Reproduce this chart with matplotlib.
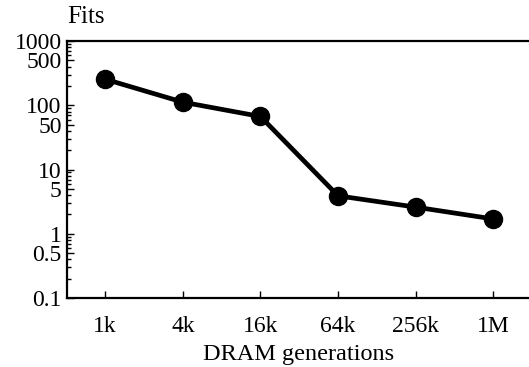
import matplotlib
matplotlib.use("Agg")
import matplotlib.pyplot as plt
from matplotlib.ticker import FixedLocator, LogLocator, NullFormatter

generations = ["1k", "4k", "16k", "64k", "256k", "1M"]
fits = [255, 112, 67, 3.9, 2.6, 1.7]
ytick_values = [0.1, 0.5, 1, 5, 10, 50, 100, 500, 1000]
ytick_labels = ["0.1", "0.5", "1", "5", "10", "50", "100", "500", "1000"]

plt.rcParams['font.family'] = ['Liberation Serif', 'DejaVu Serif']

fig = plt.figure(figsize=(5.29, 3.67), dpi=100)
ax = fig.add_axes([0.127, 0.188, 0.873, 0.700])

x = list(range(len(generations)))
ax.plot(x, fits, color='black', linewidth=3.4, marker='o', markersize=13,
        markerfacecolor='black', markeredgecolor='black')

ax.set_yscale('log')
ax.set_ylim(0.1, 1000)
ax.set_xlim(-0.49, 5.46)

ax.yaxis.set_major_locator(FixedLocator(ytick_values))
ax.set_yticklabels(ytick_labels)
ax.yaxis.set_minor_locator(LogLocator(base=10, subs=(2, 3, 4, 6, 7, 8, 9)))
ax.yaxis.set_minor_formatter(NullFormatter())

ax.set_xticks(x)
ax.set_xticklabels(generations)

ax.tick_params(axis='both', which='major', direction='in', length=5, width=1,
               labelsize=17)
ax.tick_params(axis='x', which='major', pad=13)
ax.tick_params(axis='y', which='minor', direction='in', length=3, width=1)
ax.tick_params(axis='y', which='major', pad=4)

for s in ['left', 'bottom', 'top']:
    ax.spines[s].set_linewidth(1.6)
ax.spines['right'].set_visible(False)

ax.set_xlabel("DRAM generations", fontsize=17.5, labelpad=5)
fig.text(0.127, 0.953, "Fits", fontsize=18, ha='left', va='center')

fig.savefig("out.png", dpi=100)
